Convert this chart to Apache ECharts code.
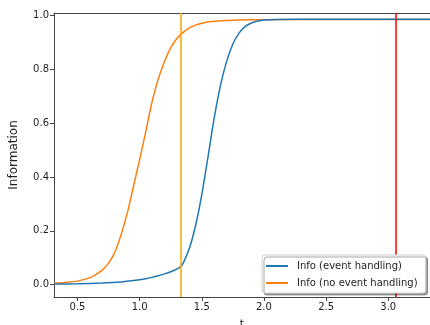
<!DOCTYPE html>
<html>
<head>
<meta charset="utf-8">
<script src="https://cdn.jsdelivr.net/npm/echarts@6/dist/echarts.min.js"></script>
<style>html,body{margin:0;padding:0;background:#fff;}#c{width:430px;height:325px;}</style>
</head>
<body>
<div id="c"></div>
<script>
const tBlue = [0.311,0.5,0.7,0.85,0.95,1.05,1.1,1.15,1.2,1.25,1.3,1.327,1.35,1.4,1.45,1.5,1.55,1.6,1.65,1.7,1.75,1.8,1.85,1.9,1.95,2.0,2.1,2.5,3.0,3.336];
const infoEvent = [0.002,0.003,0.006,0.01,0.015,0.022,0.027,0.033,0.04,0.048,0.058,0.065,0.08,0.135,0.22,0.335,0.475,0.62,0.74,0.83,0.895,0.935,0.96,0.973,0.98,0.984,0.986,0.987,0.987,0.987];
const tOrange = [0.311,0.4,0.5,0.6,0.65,0.7,0.75,0.8,0.85,0.9,0.95,1.0,1.05,1.1,1.15,1.2,1.25,1.3,1.35,1.4,1.45,1.5,1.6,1.7,1.8,2.0,2.5,3.0,3.336];
const infoNoEvent = [0.005,0.008,0.013,0.026,0.038,0.055,0.08,0.12,0.185,0.265,0.365,0.465,0.57,0.68,0.765,0.83,0.88,0.915,0.938,0.955,0.965,0.972,0.979,0.982,0.984,0.985,0.986,0.986,0.986];
const xTicks = [0.5,1.0,1.5,2.0,2.5,3.0];
const yTicks = [0.0,0.2,0.4,0.6,0.8,1.0];
const eventTime = 1.327;
const endTime = 3.057;
const seriesNames = ['Info (event handling)','Info (no event handling)'];

const pair = (xs, ys) => xs.map((x, i) => [x, ys[i]]);
const font = 'DejaVu Sans';
const chart = echarts.init(document.getElementById('c'), null, {renderer: 'canvas'});
chart.setOption({
  animation: false,
  backgroundColor: '#fff',
  grid: {left: 54, top: 13, right: 0, bottom: 28, outerBoundsMode: 'none', containLabel: false},
  legend: {
    orient: 'vertical', left: 262, top: 255, z: 20,
    padding: [6, 8, 5, 4], itemGap: 7,
    itemWidth: 22, itemHeight: 2, icon: 'rect',
    backgroundColor: '#fff', borderColor: '#d0d0d0', borderWidth: 1, borderRadius: 3,
    shadowColor: 'rgba(0,0,0,0.35)', shadowOffsetX: 2, shadowOffsetY: 2, shadowBlur: 0,
    textStyle: {fontFamily: font, fontSize: 10, color: '#222', padding: [0,0,0,4]},
    data: seriesNames
  },
  xAxis: [{
    type: 'value', min: 0.311, max: 3.336, position: 'bottom',
    name: 't', nameLocation: 'middle', nameGap: 22,
    nameTextStyle: {fontFamily: font, fontSize: 11, color: '#222'},
    axisLine: {show: true, onZero: false, lineStyle: {color: '#444', width: 1}},
    axisTick: {show: true, inside: false, length: 4, customValues: xTicks, lineStyle: {color: '#444'}},
    axisLabel: {customValues: xTicks, fontFamily: font, fontSize: 10, color: '#222', margin: 5,
      formatter: v => v.toFixed(1)},
    splitLine: {show: false}
  }, {
    type: 'value', min: 0.311, max: 3.336, position: 'top',
    axisLine: {show: true, onZero: false, lineStyle: {color: '#444', width: 1}},
    axisTick: {show: false}, axisLabel: {show: false}, splitLine: {show: false}
  }],
  yAxis: {
    type: 'value', min: -0.046, max: 1.01,
    name: 'Information', nameLocation: 'middle', nameGap: 34, nameRotate: 90,
    nameTextStyle: {fontFamily: font, fontSize: 12, color: '#222'},
    axisLine: {show: true, onZero: false, lineStyle: {color: '#444', width: 1}},
    axisTick: {show: true, inside: false, length: 4, customValues: yTicks, lineStyle: {color: '#444'}},
    axisLabel: {customValues: yTicks, fontFamily: font, fontSize: 10, color: '#222', margin: 5,
      formatter: v => v.toFixed(1)},
    splitLine: {show: false}
  },
  series: [
    {
      name: seriesNames[0], type: 'line', data: pair(tBlue, infoEvent),
      showSymbol: false, smooth: 0.25, color: '#1f77b4',
      lineStyle: {width: 1.5, color: '#1f77b4'}, z: 3,
      markLine: {
        silent: true, symbol: 'none', label: {show: false},
        data: [
          {xAxis: eventTime, lineStyle: {color: '#ffa500', width: 1.5, type: 'solid'}},
          {xAxis: endTime, lineStyle: {color: '#ff0000', width: 1.5, type: 'solid'}}
        ]
      }
    },
    {
      name: seriesNames[1], type: 'line', data: pair(tOrange, infoNoEvent),
      showSymbol: false, smooth: 0.25, color: '#ff7f0e',
      lineStyle: {width: 1.5, color: '#ff7f0e'}, z: 2
    }
  ]
});
</script>
</body>
</html>
